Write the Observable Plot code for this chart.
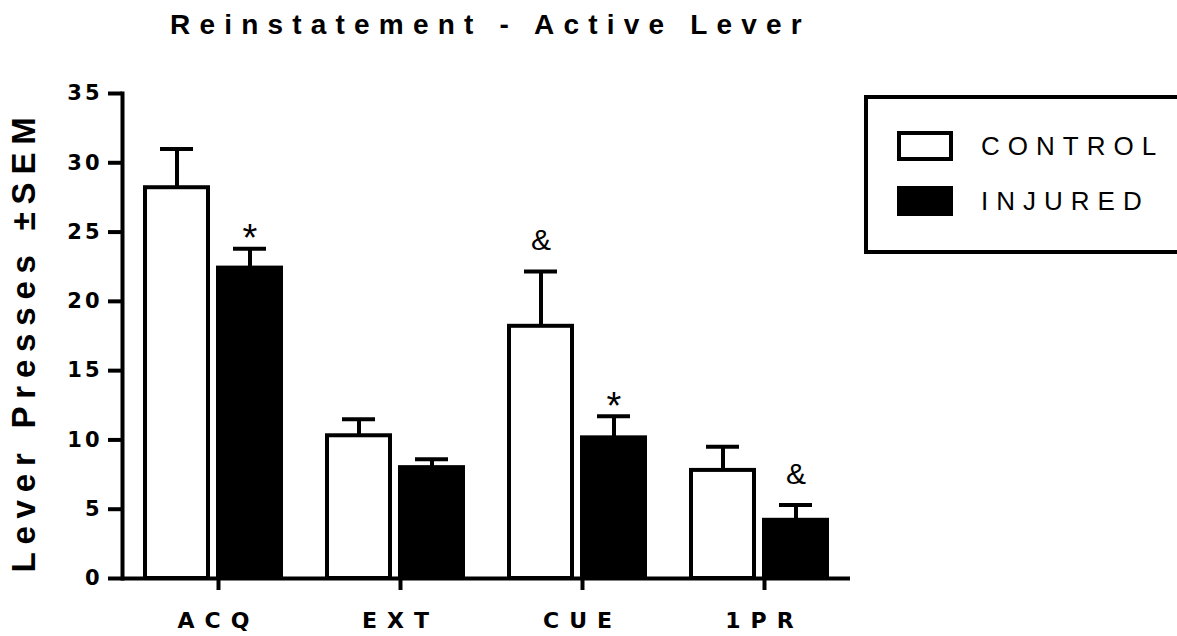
<!DOCTYPE html>
<html><head><meta charset="utf-8">
<script src="https://cdn.jsdelivr.net/npm/d3@7"></script>
<script src="https://cdn.jsdelivr.net/npm/@observablehq/plot@0.6"></script>
<style>
html,body{margin:0;padding:0;background:#fff;overflow:hidden;}
#wrap{position:relative;width:1177px;height:636px;overflow:hidden;}
#title{position:absolute;left:170px;top:11px;font-weight:bold;font-size:28px;font-family:"Liberation Sans",Arial,sans-serif;line-height:1;letter-spacing:9.2px;white-space:nowrap;color:#000;}
#chart{position:absolute;left:0;top:50px;}
#legend{position:absolute;left:864px;top:95px;width:420px;height:159px;border:4px solid #000;padding:32px 0 0 29px;box-sizing:border-box;}
.row{display:flex;align-items:center;height:30px;margin-bottom:25px;}
.sw{width:56px;height:30px;box-sizing:border-box;border:4px solid #000;}
.lab{margin-left:28px;font-family:"Liberation Sans",Arial,sans-serif;font-size:26px;line-height:30px;letter-spacing:8px;color:#000;}
#chart g[aria-label="y-axis tick label"] text{letter-spacing:3px;font-family:"DejaVu Sans",sans-serif;}
#chart g[aria-label="fx-axis tick label"] text{letter-spacing:10px;font-family:"DejaVu Sans",sans-serif;}
</style>
</head><body>
<div id="wrap">
  <div id="title"></div>
  <div id="chart"></div>
  <div id="legend"></div>
</div>
<script>
const groups = ["ACQ", "EXT", "CUE", "1PR"];
const series = ["CONTROL", "INJURED"];
const controlMean = [28.2, 10.3, 18.2, 7.8];
const controlSem = [2.8, 1.2, 3.95, 1.7];
const injuredMean = [22.4, 8.0, 10.15, 4.2];
const injuredSem = [1.4, 0.6, 1.55, 1.1];
const controlSig = ["", "", "&", ""];
const injuredSig = ["*", "", "*", "&"];
const yTicks = [0, 5, 10, 15, 20, 25, 30, 35];
const titleText = "Reinstatement - Active Lever";
const yLabel = "Lever Presses ±SEM";
const fills = ["white", "black"];

const means = [controlMean, injuredMean];
const sems = [controlSem, injuredSem];
const sigs = [controlSig, injuredSig];
const data = series.flatMap((s, si) => groups.map((g, gi) => ({
  group: g, series: s, mean: means[si][gi], top: means[si][gi] + sems[si][gi], sig: sigs[si][gi]
})));

document.getElementById("title").textContent = titleText;

const chart = Plot.plot({
  width: 1177, height: 586,
  marginLeft: 122, marginRight: 327, marginTop: 43, marginBottom: 58,
  facet: {marginTop: 0, marginRight: 0, marginBottom: 0, marginLeft: 0},
  style: {fontFamily: "'Liberation Sans', Arial, sans-serif", background: "white", color: "black", overflow: "visible"},
  fx: {domain: groups, paddingInner: 0, paddingOuter: 0, label: null},
  x: {domain: series, paddingInner: 0.136, paddingOuter: 0.3, axis: null},
  y: {domain: [0, 35]},
  color: {domain: series, range: fills},
  marks: [
    Plot.barY(data, {fx: "group", x: "series", y: "mean", fill: "series", stroke: "black", strokeWidth: 4}),
    Plot.ruleX(data, {fx: "group", x: "series", y1: "mean", y2: "top", stroke: "black", strokeWidth: 4}),
    Plot.tickY(data, {fx: "group", x: "series", y: "top", stroke: "black", strokeWidth: 4, insetLeft: 15, insetRight: 15}),
    Plot.text(data.filter(d => d.sig === "*"), {fx: "group", x: "series", y: "top", text: "sig", fontSize: 38, dy: -10, fill: "black"}),
    Plot.text(data.filter(d => d.sig === "&"), {fx: "group", x: "series", y: "top", text: "sig", fontSize: 30, dy: -31, fill: "black"}),
    Plot.ruleY([0], {stroke: "black", strokeWidth: 4}),
    Plot.frame({anchor: "left", stroke: "black", strokeWidth: 4, facetAnchor: "left"}),
    Plot.axisY({ticks: yTicks, tickSize: 14, tickPadding: 6, strokeWidth: 4, fontSize: 21, fontWeight: "bold", label: null, facetAnchor: "left"}),
    Plot.axisFx({anchor: "bottom", tickSize: 12, tickPadding: 22, strokeWidth: 4, fontSize: 22, fontWeight: "bold", label: null, dx: 5}),
    Plot.text([yLabel], {frameAnchor: "left", textAnchor: "middle", rotate: -90, dx: -98, dy: 5, fontSize: 33, fontWeight: "bold", facetAnchor: "left", fill: "black"})
  ]
});
d3.select(chart).selectAll("text").filter(function() { return this.textContent === yLabel; })
  .style("letter-spacing", "7.8px");
document.getElementById("chart").appendChild(chart);

const legend = document.getElementById("legend");
series.forEach((s, i) => {
  const row = document.createElement("div");
  row.className = "row";
  const sw = document.createElement("div");
  sw.className = "sw";
  sw.style.background = fills[i];
  const lab = document.createElement("div");
  lab.className = "lab";
  lab.textContent = s;
  row.appendChild(sw); row.appendChild(lab);
  legend.appendChild(row);
});
</script>
</body></html>
